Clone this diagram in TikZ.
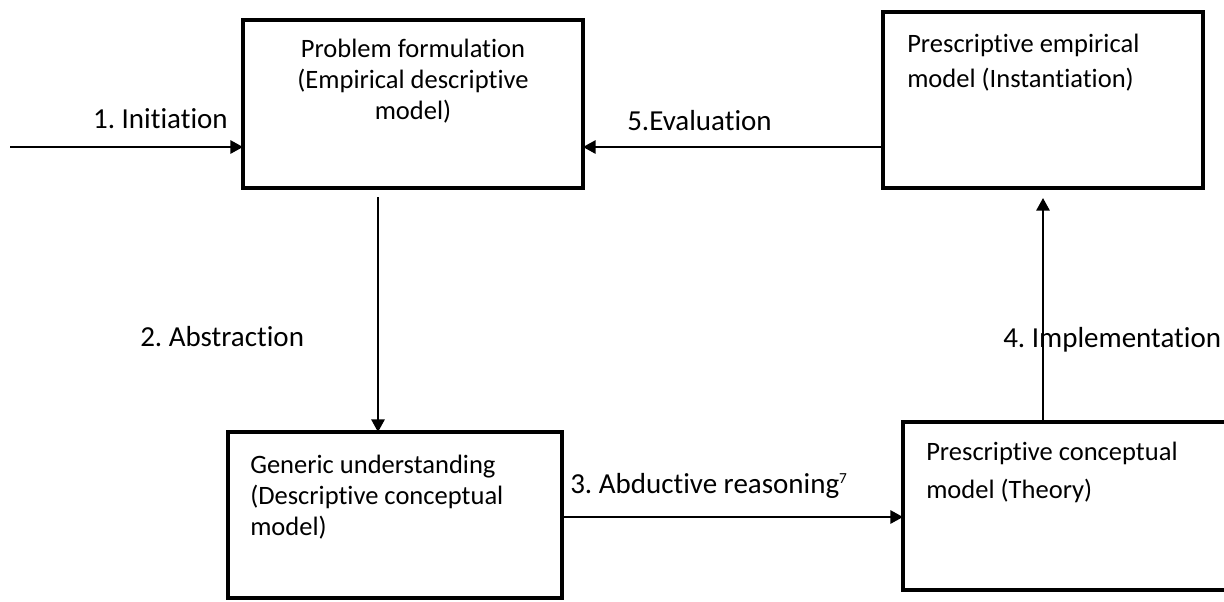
\documentclass[tikz,border=0pt]{standalone}
\usepackage{fontspec}
\setmainfont{Carlito}[Ligatures=NoCommon]
\usetikzlibrary{arrows.meta}
\frenchspacing
\begin{document}
\begin{tikzpicture}[x=0.75pt,y=-0.75pt,
  box/.style={draw, line width=3.3pt, inner sep=0pt, outer sep=0pt},
  arr/.style={line width=1.5pt, -{Triangle[length=9.5pt,width=10pt]}},
  lbl/.style={font=\fontsize{21.75}{26}\selectfont, inner sep=0pt, anchor=base west},
  boxtext/.style={inner sep=0pt}]
\useasboundingbox (0,0) rectangle (1224,601);

% the four stages
\node[box, minimum width=255pt, minimum height=126pt] (b1) at (413,104) {};
\node[box, minimum width=240pt, minimum height=132pt] (b2) at (1043,100) {};
\node[box, minimum width=250.5pt, minimum height=124.5pt] (b3) at (395,515) {};
\node[box, minimum width=246.75pt, minimum height=126pt] (b4) at (1067.5,506) {};

% box captions (base anchor sits on the last line)
\node[boxtext, anchor=base, align=center, font=\fontsize{19.9}{23.25}\selectfont] (t1) at (413,119)
  {Problem formulation\\(Empirical descriptive\\model)};
\node[boxtext, anchor=base west, align=left, font=\fontsize{19.9}{26.25}\selectfont] (t2) at (907,87)
  {Prescriptive empirical\\model (Instantiation)};
\node[boxtext, anchor=base west, align=left, font=\fontsize{19.9}{23.25}\selectfont] (t3) at (250,535)
  {Generic understanding\\(Descriptive conceptual\\model)};
\node[boxtext, anchor=base west, align=left, font=\fontsize{19.9}{28.5}\selectfont] (t4) at (926,498)
  {Prescriptive conceptual\\model (Theory)};

% free ends of connectors
\coordinate (start) at (10,147);
\coordinate (ev) at (0,147);
\coordinate (abs) at (378,197);
\coordinate (imp) at (1043,198);
\coordinate (abd) at (0,517);

% connectors
\draw[arr] (start) -- (start -| b1.west);
\draw[arr] (b2.west |- ev) -- (b1.east |- ev);
\draw[arr] (abs) -- (abs |- b3.north);
\draw[arr] (b3.east |- abd) -- (b4.west |- abd);
\draw[arr] (imp |- b4.north) -- (imp);

% connector labels
\node[lbl, anchor=base east] (l1) at (228,128) {1. Initiation};
\node[lbl] (l5) at (627,130) {5.Evaluation};
\node[lbl] (l2) at (140,346) {2. Abstraction};
\node[lbl] (l3) at (570,493) {3. Abductive reasoning\raisebox{6.8pt}{\fontsize{11.5}{12}\selectfont 7}};
\node[lbl] (l4) at (1003,347) {4. Implementation};
\end{tikzpicture}
\end{document}
